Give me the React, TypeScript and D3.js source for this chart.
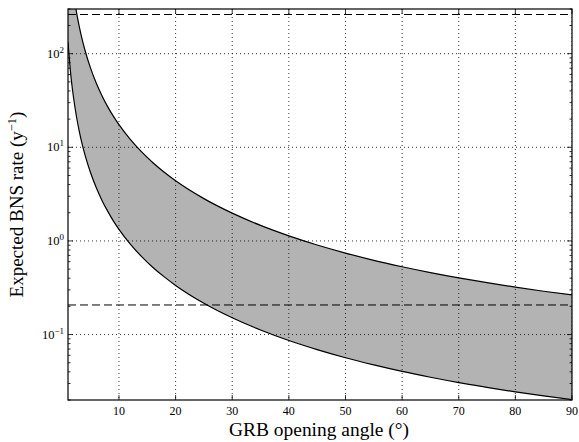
import React from "react";
import * as d3 from "d3";

const angles = [1, 1.5, 2, 2.5, 3, 3.5, 4, 5, 6, 7, 8, 9, 10, 12, 14, 16, 18, 20, 25, 30, 35, 40, 45, 50, 55, 60, 65, 70, 75, 80, 85, 90];
const upperRate = [1740, 773, 435, 278, 193.4, 142.1, 108.8, 69.6, 48.4, 35.6, 27.2, 21.5, 17.44, 12.13, 8.92, 6.84, 5.41, 4.39, 2.83, 1.98, 1.465, 1.133, 0.905, 0.742, 0.621, 0.53, 0.459, 0.403, 0.358, 0.321, 0.29, 0.265];
const lowerRate = [132.6, 58.9, 33.2, 21.2, 14.74, 10.83, 8.29, 5.31, 3.69, 2.71, 2.08, 1.64, 1.33, 0.924, 0.68, 0.521, 0.413, 0.335, 0.216, 0.151, 0.1117, 0.0863, 0.069, 0.0565, 0.0474, 0.0404, 0.035, 0.0307, 0.0273, 0.0244, 0.0221, 0.0202];
const dashedLevels = [262, 0.207];
const xTicks = [10, 20, 30, 40, 50, 60, 70, 80, 90];
const yMajorExps = [-1, 0, 1, 2];
const xDomain = [1, 90];
const yDomain = [0.02, 300];

const W = 579, H = 442;
const L = 68, R = 572, T = 9, B = 400;

export default function App() {
  const x = d3.scaleLinear().domain(xDomain).range([L, R]);
  const y = d3.scaleLog().domain(yDomain).range([B, T]);
  const data = angles.map((a, i) => ({ a, u: upperRate[i], l: lowerRate[i] }));
  const area = d3.area<any>().x(d => x(d.a)).y0(d => y(d.l)).y1(d => y(d.u)).curve(d3.curveMonotoneX);
  const lineU = d3.line<any>().x(d => x(d.a)).y(d => y(d.u)).curve(d3.curveMonotoneX);
  const lineL = d3.line<any>().x(d => x(d.a)).y(d => y(d.l)).curve(d3.curveMonotoneX);

  const minor: number[] = [];
  for (let e = -2; e <= 2; e++) {
    for (let m = 2; m <= 9; m++) {
      const v = m * Math.pow(10, e);
      if (v >= yDomain[0] && v <= yDomain[1]) minor.push(v);
    }
  }
  const font = "'Liberation Serif', 'DejaVu Serif', serif";

  return (
    <svg width={W} height={H} style={{ position: "absolute", left: 0, top: 0 }} fontFamily={font}>
      <defs>
        <clipPath id="plot">
          <rect x={L} y={T} width={R - L} height={B - T} />
        </clipPath>
      </defs>
      <rect x={0} y={0} width={W} height={H} fill="white" />
      <g clipPath="url(#plot)">
        <path d={area(data) || ""} fill="#b3b3b3" stroke="none" />
        {xTicks.map(t => (
          <line key={"gx" + t} x1={x(t)} x2={x(t)} y1={T} y2={B} stroke="black" strokeWidth={0.8} strokeDasharray="1,3" />
        ))}
        {yMajorExps.map(e => (
          <line key={"gy" + e} x1={L} x2={R} y1={y(Math.pow(10, e))} y2={y(Math.pow(10, e))} stroke="black" strokeWidth={0.8} strokeDasharray="1,3" />
        ))}
        <path d={lineU(data) || ""} fill="none" stroke="black" strokeWidth={1.2} />
        <path d={lineL(data) || ""} fill="none" stroke="black" strokeWidth={1.2} />
        {dashedLevels.map(v => (
          <line key={"d" + v} x1={L} x2={R} y1={y(v)} y2={y(v)} stroke="black" strokeWidth={1} strokeDasharray="8,4" />
        ))}
      </g>
      <rect x={L} y={T} width={R - L} height={B - T} fill="none" stroke="black" strokeWidth={1.2} />
      {xTicks.map(t => (
        <g key={"xt" + t}>
          <line x1={x(t)} x2={x(t)} y1={B} y2={B - 5} stroke="black" strokeWidth={0.8} />
          <line x1={x(t)} x2={x(t)} y1={T} y2={T + 5} stroke="black" strokeWidth={0.8} />
          <text x={x(t)} y={B + 15} textAnchor="middle" fontSize={12}>{t}</text>
        </g>
      ))}
      {yMajorExps.map(e => {
        const yy = y(Math.pow(10, e));
        return (
          <g key={"yt" + e}>
            <line x1={L} x2={L + 5} y1={yy} y2={yy} stroke="black" strokeWidth={0.8} />
            <line x1={R} x2={R - 5} y1={yy} y2={yy} stroke="black" strokeWidth={0.8} />
            <text x={L - 4} y={yy + 4} textAnchor="end" fontSize={12.5}>
              10<tspan dy={-5} fontSize={9}>{e < 0 ? "\u2212" + Math.abs(e) : e}</tspan>
            </text>
          </g>
        );
      })}
      {minor.map(v => (
        <g key={"m" + v}>
          <line x1={L} x2={L + 2.5} y1={y(v)} y2={y(v)} stroke="black" strokeWidth={0.8} />
          <line x1={R} x2={R - 2.5} y1={y(v)} y2={y(v)} stroke="black" strokeWidth={0.8} />
        </g>
      ))}
      <text x={(L + R) / 2 - 1} y={436} textAnchor="middle" fontSize={18} textLength={180} lengthAdjust="spacingAndGlyphs">GRB opening angle (°)</text>
      <text transform={`translate(23,${(T + B) / 2}) rotate(-90)`} textAnchor="middle" fontSize={19}>
        Expected BNS rate (y<tspan dy={-7} fontSize={12.5}>{"\u22121"}</tspan><tspan dy={7}>)</tspan>
      </text>
    </svg>
  );
}
